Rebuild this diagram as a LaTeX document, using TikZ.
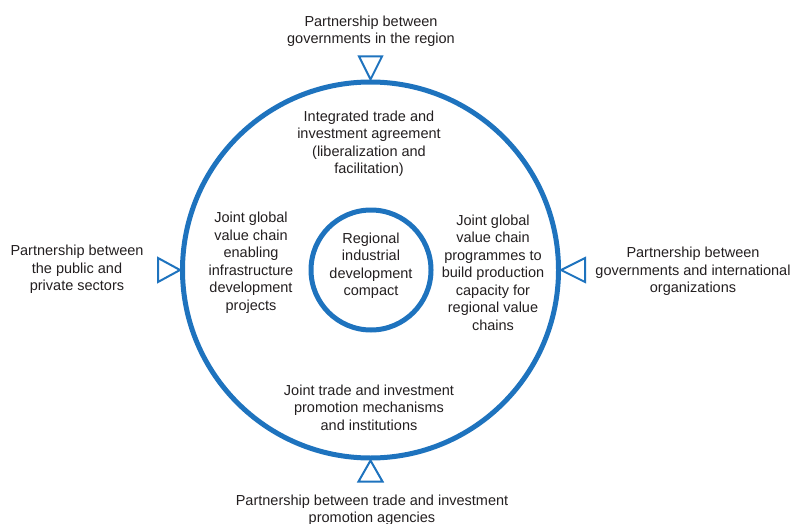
\documentclass[tikz,border=0pt]{standalone}
\usepackage{fontspec}
\setmainfont{Liberation Sans}
\definecolor{ringblue}{RGB}{30,115,190}
\definecolor{txt}{RGB}{35,31,32}
\begin{document}
\begin{tikzpicture}[x=1pt,y=1pt,
  lbl/.style={inner sep=0pt, align=center, text=txt, font=\fontsize{14.5}{17.5}\selectfont},
  ring/.style={circle, draw=ringblue, inner sep=0pt},
  tri/.style={draw=ringblue, line width=2pt, line join=miter}]
\useasboundingbox (0,0) rectangle (791,523);
\node[ring, line width=5pt, minimum size=376pt] (outer) at (370.5,253) {};
\node[ring, line width=5pt, minimum size=120pt] (inner) at (371,253) {};
% triangles
\draw[tri] (outer.north) -- ++(-11.5,23) -- ++(23,0) -- cycle;
\draw[tri] (outer.south) -- ++(-12,-21) -- ++(24,0) -- cycle;
\draw[tri] (outer.west) -- ++(-22,12) -- ++(0,-24) -- cycle;
\draw[tri] (outer.east) -- ++(24,12) -- ++(0,-24) -- cycle;
% labels
\node[lbl] (ptop) at (371,491.5) {Partnership between\\governments in the region};
\node[lbl] (pbottom) at (372,13) {Partnership between trade and investment\\promotion agencies};
\node[lbl] (pleft) at (77,253.5) {Partnership between\\the public and\\private sectors};
\node[lbl] (pright) at (693,251.5) {Partnership between\\governments and international\\organizations};
\node[lbl] (itop) at (369,379.5) {Integrated trade and\\investment agreement\\(liberalization and\\facilitation)};
\node[lbl] (ileft) at (251,260.5) {Joint global\\value chain\\enabling\\infrastructure\\development\\projects};
\node[lbl] (iright) at (493,250.5) {Joint global\\value chain\\programmes to\\build production\\capacity for\\regional value\\chains};
\node[lbl] (ibottom) at (369,115.5) {Joint trade and investment\\promotion mechanisms\\and institutions};
\node[lbl] (icenter) at (371,257.5) {Regional\\industrial\\development\\compact};
\end{tikzpicture}
\end{document}
